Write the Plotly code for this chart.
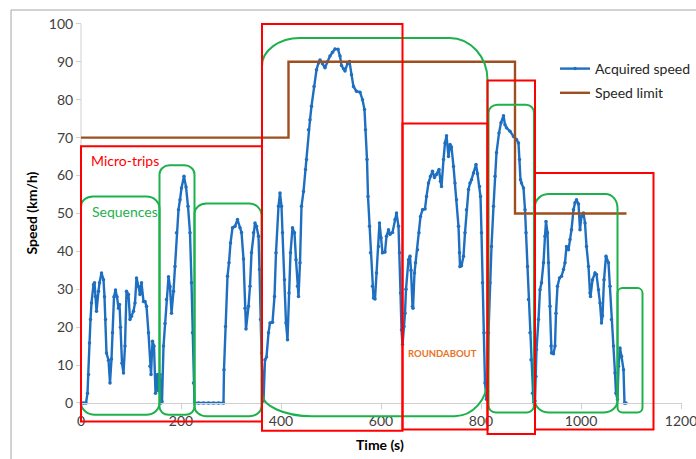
import plotly.graph_objects as go

# ---------------- data ----------------
time_s = [0, 5, 10, 13, 15, 17, 19, 21, 25, 27, 29, 31, 35, 37, 41, 45, 47, 49, 51, 55, 58, 61, 63, 66, 69, 72, 75, 77, 79, 82,
          85, 88, 91, 95, 98, 101, 105, 108, 111, 115, 118, 121, 125, 128, 131, 135, 138, 140, 143, 146, 149, 153, 155, 158, 160, 162,
          165, 168, 171, 175, 178, 181, 185, 188, 191, 195, 198, 201, 206, 210, 214, 218, 221, 223, 225, 227,
          235, 245, 255, 265, 275, 285,
          286, 289, 293, 296, 299, 303, 308, 313, 318, 321, 325, 328, 330, 335, 338, 341, 345, 348, 351, 355, 357, 359, 361, 363, 365,
          368, 371, 375, 378, 383, 387, 390, 395, 398, 401, 403, 407, 410, 413, 416, 419, 423, 427, 430, 433, 435, 438, 441, 445, 449,
          451, 455, 458, 461, 466, 471, 475, 478, 483, 488, 493, 498, 503, 508, 514, 518, 521, 525, 528, 533, 537, 541, 545, 551, 558,
          563, 567, 569, 572, 574, 577, 579, 583, 585, 588, 591, 595, 597, 600, 603, 608, 611, 615, 618, 623, 628, 631, 635, 637, 639,
          641, 643, 646, 648, 650, 655, 658, 660, 663, 664, 667, 669, 673, 676, 679, 683, 688, 691, 695, 699, 703, 707, 711, 716, 719,
          721, 725, 728, 731, 735, 738, 741, 745, 748, 751, 755, 757, 758, 761, 765, 768, 771, 775, 778, 781, 785, 790, 793, 797, 799,
          801, 803, 806, 808, 811, 813, 815, 818, 821, 825, 828, 831, 836, 840, 845, 848, 851, 858, 865, 871, 875, 877, 879, 881, 885,
          888, 890, 893, 895, 898, 900, 903, 905, 908, 910, 911, 915, 918, 921, 925, 928, 930, 933, 935, 938, 940, 941, 945, 948, 950,
          953, 957, 961, 965, 968, 971, 975, 978, 981, 985, 988, 991, 995, 998, 1001, 1005, 1008, 1011, 1015, 1018, 1019, 1023, 1028,
          1031, 1035, 1038, 1041, 1043, 1046, 1050, 1055, 1058, 1061, 1065, 1068, 1070, 1073, 1075, 1078, 1081, 1085, 1087, 1090]
speed_kmh = [0, 0, 0, 2.6, 7.5, 15.8, 22, 26.4, 31.2, 31.7, 28.1, 24.2, 29.5, 31.7, 34.3, 32.5, 28, 22, 13.2, 11.3, 5.3, 11.6, 18.5, 28, 29.8, 28, 25, 26, 20, 10.5,
             7.9, 15, 29.5, 28.6, 22, 22.9, 24.2, 26.4, 33, 30.7, 28.6, 31.7, 26.8, 26.8, 25.5, 18.5, 9.7, 7.5, 16.3, 15, 2.6, 7.5, 3.2, 7.5, 0, 0.3,
             15, 21, 27.3, 33.3, 30.7, 23.7, 29.5, 36, 44.9, 51, 53.6, 56.7, 59.8, 57, 51.9, 44.9, 31.7, 18.5, 5.3, 0,
             0, 0, 0, 0, 0, 0,
             8.8, 20.2, 33.4, 37, 42.2, 46.2, 46.6, 48.4, 46.2, 45, 38, 25, 19.5, 25.5, 30.8, 39.6, 44.9, 47.5, 46.6, 44, 35.2, 22, 13.2, 6.1, 0.5,
             11.4, 12.1, 18.5, 21.1, 21.3, 28.1, 39.6, 51.9, 55.4, 51.9, 44.9, 32.5, 21.1, 16.7, 29, 39.6, 46.2, 44.9, 37.8, 30.8, 28.1, 37, 51.9, 55.8, 61.6,
             64.2, 72.1, 74.7, 78.3, 83.5, 87.9, 89.7, 90.5, 89.5, 88.4, 90, 91.5, 92.5, 93.4, 93.3, 91.5, 89, 88.2, 87.6, 89.5, 90.1, 86.6, 83.5, 82.2, 82,
             80, 77.4, 72.1, 64.2, 54.5, 46.6, 39.6, 30.8, 27.7, 27.4, 34.3, 41.3, 47.5, 43.6, 39.6, 39.8, 44, 45.7, 44.5, 45, 48.4, 50.1, 46.6, 39.6, 29,
             19.3, 15.4, 20.2, 23.7, 30, 37.8, 38.7, 35, 25.5, 25, 34.3, 37, 40.4, 44.9, 49.2, 51, 51.2, 54.5, 58, 59.8, 61.1, 59.5, 60.3, 61.6, 58.5,
             57.1, 64.2, 68.6, 70.5, 65, 68.2, 67.5, 62.4, 58, 53.6, 46.6, 39.6, 36, 36.2, 38.7, 44.9, 51, 56.3, 58, 58.9, 60.7, 62.9, 60.5, 57.1, 54.5,
             44.9, 31.7, 18.5, 5.3, 1, 3, 18.5, 31.7, 41.3, 51.9, 59.8, 66, 71.2, 73.9, 75.8, 73.4, 72.6, 71.7, 70.3, 69.5, 68.6, 64.2, 58.9, 58, 56.7,
             51, 44.9, 36, 27.3, 18.5, 11.4, 2.6, 0, 0.5, 7, 14.1, 22, 29.9, 31.7, 37, 44, 47.9, 44.9, 37, 25.5, 15, 13.2, 13, 15, 23.7,
             30.8, 33, 33.4, 35.2, 37, 41.3, 40.4, 43.1, 45.7, 51, 52.8, 53.6, 52.5, 45.7, 49.2, 50.1, 47.5, 41.3, 36, 29, 28.1, 32.5, 34.3,
             33.9, 29.9, 26.4, 21.1, 23, 32.5, 38.7, 37, 30.8, 22, 15, 7.9, 2.6, 0.9, 9.7, 14.5, 12.3, 8.8, 0, 0]

limit_time = [0, 415, 415, 868, 868, 1091]
limit_speed = [70, 70, 90, 90, 50, 50]

x_ticks = [0, 200, 400, 600, 800, 1000, 1200]
y_ticks = [0, 10, 20, 30, 40, 50, 60, 70, 80, 90, 100]

# micro-trip boxes (time start, time end, speed bottom, speed top)
micro_t0 = [0, 362, 643, 813, 908]
micro_t1 = [362, 643, 813, 908, 1145]
micro_v0 = [-4.9, -7.3, -7.0, -8.2, -7.0]
micro_v1 = [67.7, 100, 73.7, 85.1, 60.7]

# sequence boxes
seq_t0 = [0, 157, 227, 362, 815, 908, 1073]
seq_t1 = [157, 227, 361, 813, 906, 1073, 1123]
seq_v0 = [-3.1, -3.1, -3.5, -3.5, -2.5, -2.5, -2.5]
seq_v1 = [54.5, 62.7, 52.6, 96.3, 78.7, 55.1, 30.3]

# ---------------- geometry ----------------
W, H = 696, 459
ML, MR, MT, MB = 79, 14, 22, 20
XR = [-4, 1202]
YR = [-9.5, 100.5]
pw = W - ML - MR
ph = H - MT - MB
sx = (XR[1] - XR[0]) / pw   # data units per px
sy = (YR[1] - YR[0]) / ph

FONT = "Lato, Carlito, Calibri, sans-serif"
BLUE = "#1F6FC1"
BROWN = "#9E4F1F"
RED = "#FF0000"
GREEN = "#1DB14B"

# corner radii in px: (tl_rx, tl_ry, tr_rx, tr_ry, br_rx, br_ry, bl_rx, bl_ry)
seq_radii = [
    (12, 10, 13, 12, 13, 12, 14, 12),
    (10, 9, 10, 9, 9, 8, 9, 8),
    (12, 10, 12, 12, 12, 10, 12, 10),
    (38, 28, 38, 42, 33, 37, 50, 23),
    (9, 8, 8, 8, 7, 7, 7, 7),
    (14, 12, 12, 14, 14, 12, 14, 12),
    (5, 5, 5, 5, 5, 5, 5, 5),
]

K = 0.5523


def rounded_path(x0, x1, y0, y1, r):
    tlx, tly, trx, try_, brx, bry, blx, bly = r
    tlx, trx, brx, blx = [v * sx for v in (tlx, trx, brx, blx)]
    tly, try_, bry, bly = [v * sy for v in (tly, try_, bry, bly)]
    p = []
    p.append(f"M{x0},{y0 + bly}")
    p.append(f"L{x0},{y1 - tly}")
    p.append(f"C{x0},{y1 - tly + K * tly} {x0 + tlx - K * tlx},{y1} {x0 + tlx},{y1}")
    p.append(f"L{x1 - trx},{y1}")
    p.append(f"C{x1 - trx + K * trx},{y1} {x1},{y1 - try_ + K * try_} {x1},{y1 - try_}")
    p.append(f"L{x1},{y0 + bry}")
    p.append(f"C{x1},{y0 + bry - K * bry} {x1 - brx + K * brx},{y0} {x1 - brx},{y0}")
    p.append(f"L{x0 + blx},{y0}")
    p.append(f"C{x0 + blx - K * blx},{y0} {x0},{y0 + bly - K * bly} {x0},{y0 + bly}")
    p.append("Z")
    return " ".join(p)


fig = go.Figure()
fig.add_trace(go.Scatter(
    x=time_s, y=speed_kmh, mode="lines+markers", name="Acquired speed",
    line=dict(color=BLUE, width=2.4), marker=dict(color=BLUE, size=3.5, symbol="circle"),
    legendgroup="a", cliponaxis=False))
fig.add_trace(go.Scatter(
    x=limit_time, y=limit_speed, mode="lines", name="Speed limit",
    line=dict(color=BROWN, width=2.4), legendgroup="b", cliponaxis=False))

shapes = []
# outer chart frame
shapes.append(dict(type="rect", xref="paper", yref="paper",
                   x0=(11 - ML) / pw, x1=(W + 20 - ML) / pw,
                   y0=-(H + 20 - (MT + ph)) / ph, y1=(MT + ph - 10) / ph,
                   line=dict(color="#A6A6A6", width=1), layer="below"))
# y axis line (0..100)
shapes.append(dict(type="line", xref="x", yref="y", x0=0, x1=0, y0=0, y1=100,
                   line=dict(color="#D0D0D0", width=1), layer="below"))

for a, b, c, d, r in zip(seq_t0, seq_t1, seq_v0, seq_v1, seq_radii):
    shapes.append(dict(type="path", xref="x", yref="y", path=rounded_path(a, b, c, d, r),
                       line=dict(color=GREEN, width=2), layer="above"))
for a, b, c, d in zip(micro_t0, micro_t1, micro_v0, micro_v1):
    shapes.append(dict(type="rect", xref="x", yref="y", x0=a, x1=b, y0=c, y1=d,
                       line=dict(color=RED, width=2), layer="above"))

annotations = [
    dict(text="Micro-trips", x=16, y=63.9, xref="x", yref="y", xanchor="left", yanchor="middle",
         showarrow=False, font=dict(family=FONT, size=14, color=RED)),
    dict(text="Sequences", x=18, y=50.5, xref="x", yref="y", xanchor="left", yanchor="middle",
         showarrow=False, font=dict(family=FONT, size=14, color=GREEN)),
    dict(text="<b>ROUNDABOUT</b>", x=649, y=13.1, xref="x", yref="y", xanchor="left", yanchor="middle",
         showarrow=False, font=dict(family=FONT, size=9.5, color="#E8731E")),
    dict(text="<b>Time (s)</b>", x=598, y=-(445 - (MT + ph)) / ph, xref="x", yref="paper",
         xanchor="center", yanchor="middle", showarrow=False,
         font=dict(family=FONT, size=14, color="#000000")),
    dict(text="<b>Speed (km/h)</b>", x=(31 - ML) / pw, y=50, xref="paper", yref="y",
         xanchor="center", yanchor="middle", textangle=-90, showarrow=False,
         font=dict(family=FONT, size=14, color="#000000")),
]

fig.update_layout(
    template="none",
    width=W, height=H,
    margin=dict(l=ML, r=MR, t=MT, b=MB, pad=0, autoexpand=False),
    paper_bgcolor="white", plot_bgcolor="white",
    font=dict(family=FONT, size=14, color="#404040"),
    showlegend=True,
    legend=dict(xref="container", yref="container", x=555 / W, y=1 - 53 / H,
                xanchor="left", yanchor="top",
                bgcolor="rgba(0,0,0,0)", font=dict(family=FONT, size=14, color="#262626"),
                tracegroupgap=3),
    xaxis=dict(range=XR, tickvals=x_ticks, ticktext=[str(v) for v in x_ticks],
               showgrid=False, zeroline=False, showline=True, linecolor="#D0D0D0", linewidth=1,
               ticks="outside", ticklen=5, tickcolor="#D0D0D0", automargin=False,
               ticklabeloverflow="allow",
               anchor="free", position=(0 - YR[0]) / (YR[1] - YR[0]),
               tickfont=dict(family=FONT, size=14, color="#404040")),
    yaxis=dict(range=YR, tickvals=y_ticks, ticktext=[str(v) for v in y_ticks],
               showgrid=False, zeroline=False, showline=False, automargin=False,
               ticks="outside", ticklen=5, tickcolor="#D0D0D0",
               anchor="free", position=(0 - XR[0]) / (XR[1] - XR[0]),
               tickfont=dict(family=FONT, size=14, color="#404040")),
    shapes=shapes,
    annotations=annotations,
)

fig.write_html(
    "out.html",
    config={"displayModeBar": False},
    post_script="document.documentElement.style.margin='0';document.body.style.margin='0';"
                "document.body.style.overflow='hidden';",
)
